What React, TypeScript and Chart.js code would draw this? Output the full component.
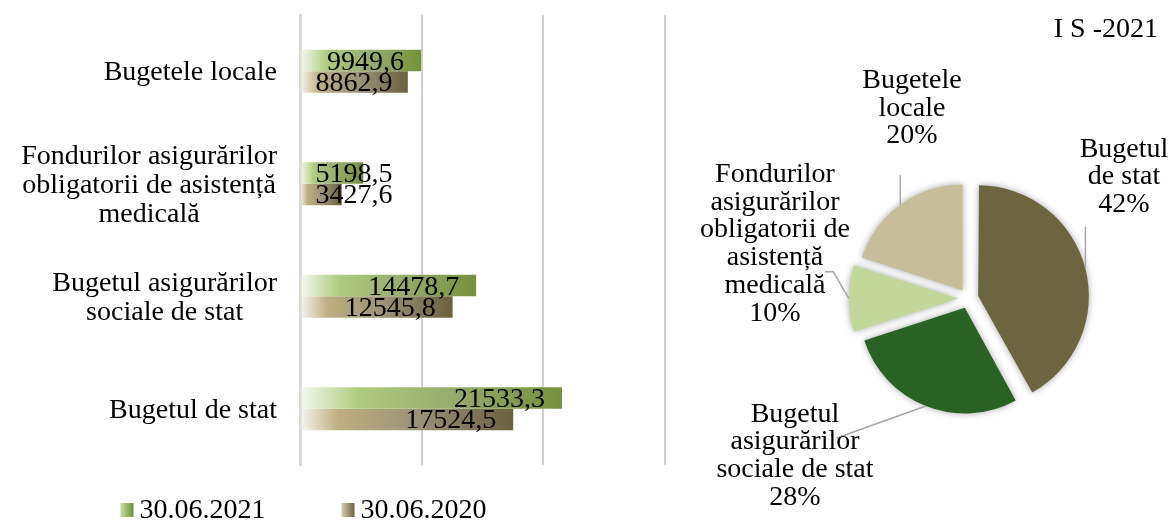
import React, { useEffect, useRef } from 'react';
import { Chart, registerables } from 'chart.js';

Chart.register(...registerables);

// ---------- data ----------
const BAR_CATEGORIES: string[][] = [
  ['Bugetele locale'],
  ['Fondurilor asigurărilor', 'obligatorii de asistență', 'medicală'],
  ['Bugetul asigurărilor', 'sociale de stat'],
  ['Bugetul de stat'],
];
const SERIES_NAMES = ['30.06.2021', '30.06.2020'];
const VALUES_2021 = [9949.6, 5198.5, 14478.7, 21533.3];
const VALUES_2020 = [8862.9, 3427.6, 12545.8, 17524.5];
const X_MIN = 0;
const X_MAX = 30000;
const X_STEP = 10000;

const PIE_TITLE = 'I S -2021';
const PIE_LABELS: string[][] = [
  ['Bugetul', 'de stat'],
  ['Bugetul', 'asigurărilor', 'sociale de stat'],
  ['Fondurilor', 'asigurărilor', 'obligatorii de', 'asistență', 'medicală'],
  ['Bugetele', 'locale'],
];
const PIE_SHARES = [42, 28, 10, 20];

// ---------- style ----------
const FONT = '"Liberation Serif", "Times New Roman", serif';
const FONT_SIZE = 28;
const GREEN_STOPS: [number, string][] = [
  [0, '#f6f9f0'], [0.22, '#aecc7f'], [0.6, '#94ab6c'], [1, '#75913b'],
];
const BROWN_STOPS: [number, string][] = [
  [0, '#f8f5ef'], [0.18, '#bdaf81'], [0.55, '#9b9277'], [1, '#6b6140'],
];
const LEGEND_STOPS: [number, string][][] = [
  [[0, '#c8dca4'], [1, '#6e8e34']],
  [[0, '#d6cdb2'], [1, '#6b6240']],
];
const PIE_COLORS = ['#6b6540', '#2a6125', '#c4d79b', '#c6be9a'];
const EXPLODE = 10;

// label layout relative to pie centre: cx, first baseline, leader points (null x => anchor x)
const PIE_LABEL_LAYOUT: { cx: number; by: number; lead: [number | null, number][] }[] = [
  { cx: 155.5, by: -141.8, lead: [[null, -71.8]] },
  { cx: -173.5, by: 123.2, lead: [[-131.8, 139.5]] },
  { cx: -193.5, by: -116.5, lead: [[-143.5, -26.8], [-135.2, -26.8]] },
  { cx: -56.5, by: -210.5, lead: [[null, -123.5]] },
];

const fmt = (v: number) => v.toFixed(1).replace('.', ',');

function makeGradient(chart: any, v: number, stops: [number, string][]) {
  const xs = chart.scales.x;
  const x0 = xs.getPixelForValue(0);
  const x1 = xs.getPixelForValue(v);
  const g = chart.ctx.createLinearGradient(x0, 0, x1, 0);
  stops.forEach(([o, c]) => g.addColorStop(o, c));
  return g;
}

const barPlugin = {
  id: 'barDecor',
  afterDatasetsDraw(chart: any) {
    const ctx = chart.ctx;
    ctx.save();
    ctx.font = `${FONT_SIZE}px ${FONT}`;
    ctx.fillStyle = '#000';
    ctx.textAlign = 'right';
    ctx.textBaseline = 'alphabetic';
    chart.data.datasets.forEach((ds: any, di: number) => {
      const meta = chart.getDatasetMeta(di);
      meta.data.forEach((bar: any, i: number) => {
        const txt = fmt(ds.data[i]);
        const w = ctx.measureText(txt).width;
        const right = Math.max(bar.x - 17, bar.base + 14 + w);
        ctx.fillText(txt, right, bar.y + 9);
      });
    });
    ctx.restore();
  },
  afterDraw(chart: any) {
    const ctx = chart.ctx;
    const ys = chart.scales.y;
    const left = chart.chartArea.left;
    ctx.save();
    ctx.font = `${FONT_SIZE}px ${FONT}`;
    ctx.fillStyle = '#000';
    ctx.textAlign = 'center';
    ctx.textBaseline = 'alphabetic';
    BAR_CATEGORIES.forEach((lines, i) => {
      const y = ys.getPixelForTick(i);
      const bw = Math.max(...lines.map((l) => ctx.measureText(l).width));
      const cx = left - 23 - bw / 2;
      lines.forEach((l, j) => {
        ctx.fillText(l, cx, y + 9 + (j - (lines.length - 1) / 2) * 29);
      });
    });

    // legend
    const sq = 13;
    const gapIn = 6;
    const gapOut = 76;
    const widths = SERIES_NAMES.map((n) => ctx.measureText(n).width);
    const total = widths.reduce((a, w) => a + sq + gapIn + w, 0) + gapOut * (SERIES_NAMES.length - 1);
    let x = 303.5 - total / 2;
    ctx.textAlign = 'left';
    SERIES_NAMES.forEach((n, i) => {
      const g = ctx.createLinearGradient(x, 0, x + sq, 0);
      LEGEND_STOPS[i].forEach(([o, c]) => g.addColorStop(o, c));
      ctx.fillStyle = g;
      ctx.fillRect(x, 503, sq, 14);
      ctx.fillStyle = '#000';
      ctx.fillText(n, x + sq + gapIn, 518);
      x += sq + gapIn + widths[i] + gapOut;
    });
    ctx.restore();
  },
};

const piePlugin = {
  id: 'pieDecor',
  beforeDatasetsDraw(chart: any) {
    const ctx = chart.ctx;
    ctx.save();
    ctx.shadowColor = 'rgba(0,0,0,0.35)';
    ctx.shadowBlur = 7;
  },
  afterDatasetsDraw(chart: any) {
    const ctx = chart.ctx;
    ctx.restore();
    const meta = chart.getDatasetMeta(0);
    ctx.save();
    ctx.font = `${FONT_SIZE}px ${FONT}`;
    ctx.textAlign = 'center';
    ctx.textBaseline = 'alphabetic';
    meta.data.forEach((arc: any, i: number) => {
      const { x, y, startAngle, endAngle, outerRadius, circumference } = arc;
      const mid = (startAngle + endAngle) / 2;
      const r = outerRadius + EXPLODE * (1 - Math.sin(Math.min(Math.PI, circumference))) + EXPLODE;
      const ax = x + Math.cos(mid) * r;
      const ay = y + Math.sin(mid) * r;
      const lay = PIE_LABEL_LAYOUT[i];
      ctx.strokeStyle = '#a6a6a6';
      ctx.lineWidth = 1.5;
      ctx.beginPath();
      lay.lead.forEach(([lx, ly], k) => {
        const px = lx === null ? ax : x + lx;
        const py = y + ly;
        if (k === 0) ctx.moveTo(px, py);
        else ctx.lineTo(px, py);
      });
      ctx.lineTo(ax, ay);
      ctx.stroke();
      ctx.fillStyle = '#000';
      const lines = [...PIE_LABELS[i], `${PIE_SHARES[i]}%`];
      lines.forEach((l, j) => ctx.fillText(l, x + lay.cx, y + lay.by + j * 27.7));
    });
    ctx.restore();
  },
};

export default function App() {
  const barRef = useRef<HTMLCanvasElement>(null);
  const pieRef = useRef<HTMLCanvasElement>(null);

  useEffect(() => {
    const bar = new Chart(barRef.current!, {
      type: 'bar',
      data: {
        labels: BAR_CATEGORIES.map((l) => l.join(' ')),
        datasets: [
          {
            label: SERIES_NAMES[0],
            data: VALUES_2021,
            backgroundColor: (c: any) =>
              c.type === 'data' && c.chart.chartArea ? makeGradient(c.chart, c.parsed.x, GREEN_STOPS) : '#75913b',
            borderWidth: 0,
            categoryPercentage: 0.382,
            barPercentage: 1,
          },
          {
            label: SERIES_NAMES[1],
            data: VALUES_2020,
            backgroundColor: (c: any) =>
              c.type === 'data' && c.chart.chartArea ? makeGradient(c.chart, c.parsed.x, BROWN_STOPS) : '#6b6140',
            borderWidth: 0,
            categoryPercentage: 0.382,
            barPercentage: 1,
          },
        ],
      },
      options: {
        indexAxis: 'y',
        responsive: false,
        animation: false,
        events: [],
        layout: { padding: { top: 15, right: 15, bottom: 56, left: 0 } },
        plugins: { legend: { display: false }, tooltip: { enabled: false }, title: { display: false } },
        scales: {
          x: {
            min: X_MIN,
            max: X_MAX,
            ticks: { display: false, stepSize: X_STEP },
            grid: {
              color: (c: any) => (c.index === 0 ? '#d9d9d9' : '#d0d0d0'),
              lineWidth: (c: any) => (c.index === 0 ? 3 : 2),
              drawTicks: false,
            },
            border: { display: false },
            afterFit: (s: any) => {
              s.height = 0;
            },
          },
          y: {
            ticks: { display: false },
            grid: { display: false, drawTicks: false },
            border: { display: true, color: '#d9d9d9', width: 3 },
            afterFit: (s: any) => {
              s.width = 300;
            },
          },
        },
      } as any,
      plugins: [barPlugin],
    });

    const pie = new Chart(pieRef.current!, {
      type: 'pie',
      data: {
        labels: PIE_LABELS.map((l) => l.join(' ')),
        datasets: [
          {
            data: PIE_SHARES,
            backgroundColor: PIE_COLORS,
            borderWidth: 0,
            offset: EXPLODE * 4,
            radius: 105.5,
          } as any,
        ],
      },
      options: {
        responsive: false,
        animation: false,
        events: [],
        layout: { padding: { top: 0, right: 10, bottom: 50, left: 99 } },
        plugins: {
          legend: { display: false },
          tooltip: { enabled: false },
          title: {
            display: true,
            text: PIE_TITLE,
            align: 'end',
            color: '#000',
            font: { family: FONT, size: FONT_SIZE, weight: 'normal', lineHeight: 1 },
            padding: { top: 16, bottom: 82 },
          },
        },
      } as any,
      plugins: [piePlugin],
    });

    return () => {
      bar.destroy();
      pie.destroy();
    };
  }, []);

  return (
    <div style={{ position: 'fixed', left: 0, top: 0, width: 1168, height: 521, background: '#fff' }}>
      <canvas ref={barRef} width={680} height={521} style={{ position: 'absolute', left: 0, top: 0 }} />
      <canvas ref={pieRef} width={488} height={521} style={{ position: 'absolute', left: 680, top: 0 }} />
    </div>
  );
}
